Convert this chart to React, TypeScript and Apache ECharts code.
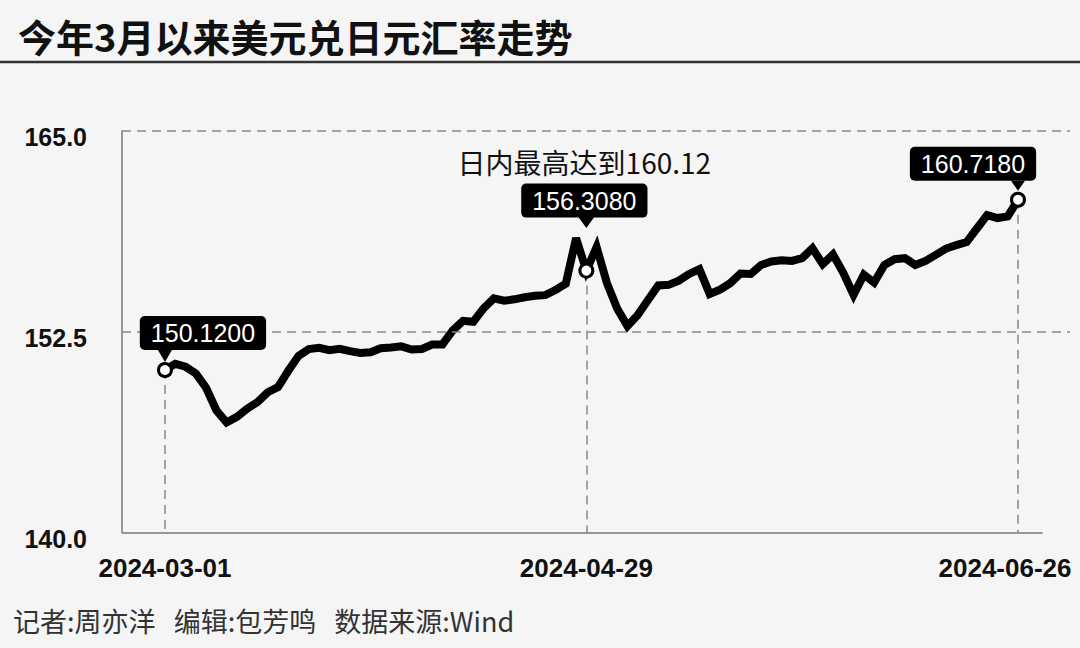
import React, { useEffect, useRef } from "react";
import * as echarts from "echarts";

// USD/JPY close, one value per trading day, 2024-03-01 .. 2024-06-26
const rates = [
  150.12, 150.5, 150.32, 149.91, 149.01, 147.61, 146.85, 147.2, 147.71, 148.12,
  148.73, 149.05, 150.07, 151.0, 151.42, 151.5, 151.35, 151.44, 151.29, 151.18,
  151.22, 151.47, 151.52, 151.59, 151.39, 151.43, 151.7, 151.71, 152.58, 153.18,
  153.12, 153.96, 154.58, 154.43, 154.52, 154.65, 154.74, 154.78, 155.1, 155.49,
  158.33, 156.308, 157.77, 155.54, 153.95, 152.85, 153.54, 154.48, 155.38, 155.42,
  155.68, 156.1, 156.4, 154.85, 155.12, 155.52, 156.13, 156.1, 156.66, 156.88,
  156.95, 156.91, 157.08, 157.7, 156.71, 157.31, 156.17, 154.8, 156.06, 155.56,
  156.66, 157.02, 157.08, 156.66, 156.91, 157.29, 157.68, 157.89, 158.08, 158.93,
  159.76, 159.58, 159.68, 160.718,
];

const tickIndex = [0, 41, 83];
const tickLabels = ["2024-03-01", "2024-04-29", "2024-06-26"];
const yTicks = [140, 152.5, 165];
const calloutIndex = [0, 41, 83];
const calloutText = ["150.1200", "156.3080", "160.7180"];
const peakNote = "日内最高达到160.12";

const X_MIN = -4.18;
const X_MAX = 88.06;
const AXIS_END = 85.4;

const NUM = "'Liberation Sans', Arial, sans-serif";
const CJK = "'Noto Sans CJK SC', 'Noto Sans', sans-serif";

const App = () => {
  const chartRef = useRef<HTMLDivElement>(null);

  useEffect(() => {
    if (!chartRef.current) return;
    const chart = echarts.init(chartRef.current, null, { renderer: "svg" });

    const boxOffsets = [
      [38, -37],
      [-2, -70],
      [-45, -36],
    ];
    const triOffsets = [-14, -48, -14];
    const triSizes = [
      [14, 12],
      [16, 11],
      [14, 10],
    ];

    const triangles = calloutIndex.map((idx, k) => ({
      coord: [idx, rates[idx]],
      symbol: "path://M0,0 L14,0 L7,12 Z",
      symbolKeepAspect: false,
      symbolSize: triSizes[k],
      symbolOffset: [0, triOffsets[k]],
      itemStyle: { color: "#000" },
      label: { show: false },
    }));

    const circles = calloutIndex.map((idx, k) => ({
      coord: [idx, rates[idx]],
      symbol: "circle",
      symbolSize: 13,
      itemStyle: { color: "#fff", borderColor: "#000", borderWidth: 3 },
      label: {
        show: true,
        position: "inside",
        offset: boxOffsets[k],
        formatter: calloutText[k],
        color: "#fff",
        backgroundColor: "#000",
        borderRadius: 5,
        padding: [5, 11, 4, 11],
        fontFamily: NUM,
        fontSize: 25,
        lineHeight: 25,
      },
    }));

    const note = {
      coord: [41, rates[41]],
      symbol: "circle",
      symbolSize: 1,
      itemStyle: { color: "rgba(0,0,0,0)" },
      label: {
        show: true,
        position: "inside",
        offset: [-2, -109],
        formatter: peakNote,
        color: "#111",
        fontFamily: CJK,
        fontSize: 28,
      },
    };

    const dashed = { color: "#888", width: 1.5, type: [9, 6] };

    const options = {
      animation: false,
      backgroundColor: "#f5f5f5",
      title: {
        text: "今年3月以来美元兑日元汇率走势",
        left: 13,
        top: 11,
        textStyle: {
          fontFamily: CJK,
          fontSize: 38,
          fontWeight: "bold",
          color: "#111",
        },
      },
      graphic: [
        {
          type: "line",
          shape: { x1: 0, y1: 62, x2: 1080, y2: 62 },
          style: { stroke: "#333", lineWidth: 2.5 },
        },
        {
          type: "text",
          left: 13,
          top: 607,
          style: {
            text: "记者:周亦洋   编辑:包芳鸣   数据来源:Wind",
            fontFamily: CJK,
            fontSize: 27,
            fill: "#333",
          },
        },
      ],
      grid: { left: 122, right: 10, top: 131, bottom: 115.5 },
      xAxis: {
        type: "value",
        min: X_MIN,
        max: X_MAX,
        axisLine: { show: false },
        axisTick: { show: false },
        splitLine: { show: false },
        axisLabel: {
          customValues: tickIndex,
          margin: 22,
          formatter: (v: number) => {
            const k = tickIndex.indexOf(Math.round(v));
            if (k < 0) return "";
            return k === tickIndex.length - 1 ? `{last|${tickLabels[k]}}` : tickLabels[k];
          },
          fontFamily: NUM,
          fontWeight: "bold",
          fontSize: 26,
          color: "#111",
          rich: {
            last: {
              fontFamily: NUM,
              fontWeight: "bold",
              fontSize: 26,
              color: "#111",
              padding: [0, 26, 0, 0],
            },
          },
        },
      },
      yAxis: {
        type: "value",
        min: 140,
        max: 165,
        axisLine: { show: true, onZero: false, lineStyle: { color: "#777", width: 1.5 } },
        axisTick: { show: false },
        splitLine: { show: false },
        axisLabel: {
          customValues: yTicks,
          formatter: (v: number) => v.toFixed(1),
          align: "right",
          verticalAlign: "top",
          lineHeight: 12,
          margin: 35,
          fontFamily: NUM,
          fontWeight: "bold",
          fontSize: 25,
          color: "#111",
        },
      },
      series: [
        {
          type: "line",
          data: rates.map((v, i) => [i, v]),
          showSymbol: false,
          symbol: "none",
          lineStyle: { color: "#000", width: 8, join: "miter", miterLimit: 3 },
          z: 3,
          markLine: {
            silent: true,
            symbol: ["none", "none"],
            label: { show: false },
            lineStyle: dashed,
            data: [
              { yAxis: 165 },
              { yAxis: 152.5 },
              ...calloutIndex.map((idx) => [
                { coord: [idx, rates[idx]] },
                { coord: [idx, 140] },
              ]),
              [
                { coord: [X_MIN, 140], lineStyle: { color: "#777", width: 1.5, type: "solid" } },
                { coord: [AXIS_END, 140] },
              ],
            ],
          },
          markPoint: {
            silent: true,
            data: [...triangles, ...circles, note],
          },
        },
      ],
    };

    chart.setOption(options as any);

    return () => {
      chart.dispose();
    };
  }, []);

  return (
    <div
      ref={chartRef}
      style={{ position: "absolute", left: 0, top: 0, width: "1080px", height: "648px" }}
    />
  );
};

export default App;
